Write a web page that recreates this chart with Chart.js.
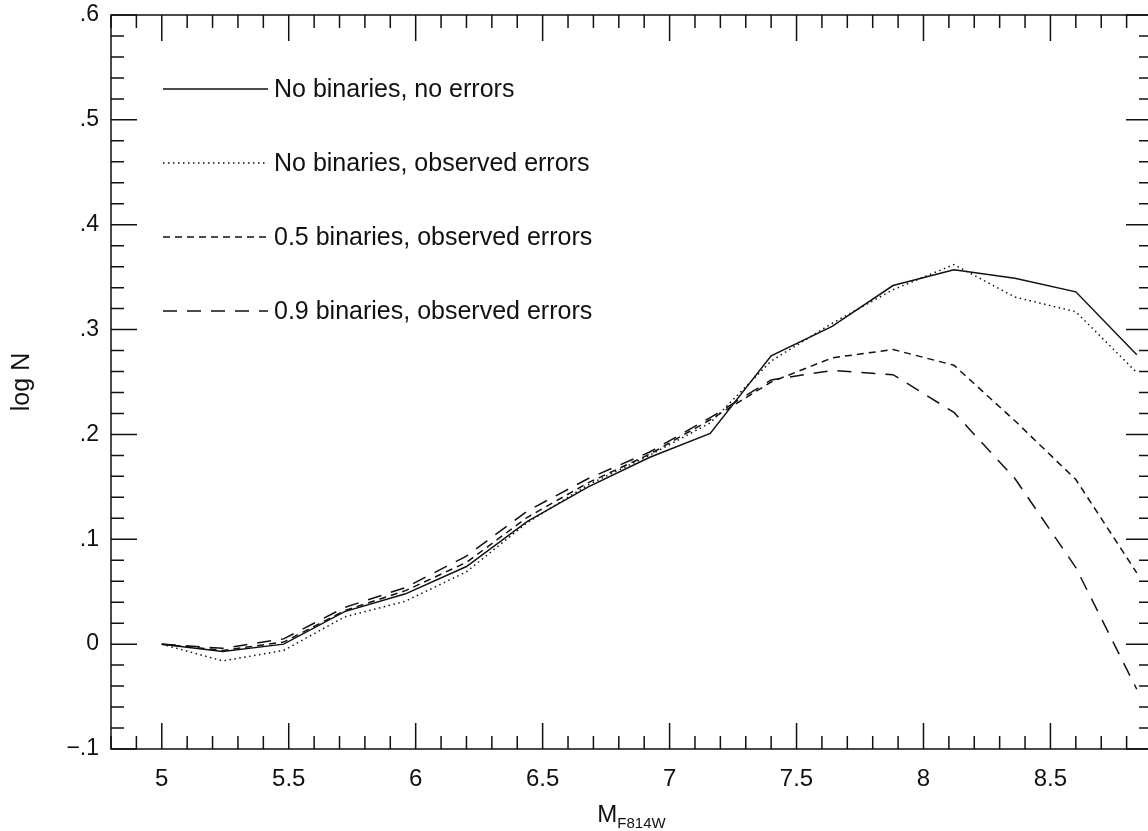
<!DOCTYPE html>
<html>
<head>
<meta charset="utf-8">
<script src="https://cdn.jsdelivr.net/npm/chart.js@4.4.1/dist/chart.umd.min.js"></script>
<style>
  html, body { margin: 0; padding: 0; background: #fff; overflow: hidden; }
  /* a little wider than the window: the right frame edge sits just off screen */
  #wrap { width: 1160px; height: 831px; }
</style>
</head>
<body>
<div id="wrap"><canvas id="lf"></canvas></div>
<script>
// magnitude bins (M_F814W)
const mags = [5.00, 5.24, 5.48, 5.72, 5.96, 6.20, 6.44, 6.68, 6.92, 7.16, 7.40, 7.64, 7.88, 8.12, 8.36, 8.60, 8.84];

// log N for each model
const noBinNoErr  = [0, -0.007, 0.000, 0.031, 0.048, 0.074, 0.117, 0.150, 0.178, 0.201, 0.275, 0.303, 0.342, 0.357, 0.349, 0.336, 0.276];
const noBinObsErr = [0, -0.016, -0.006, 0.026, 0.041, 0.069, 0.116, 0.152, 0.180, 0.211, 0.270, 0.306, 0.338, 0.362, 0.331, 0.317, 0.259];
const bin05ObsErr = [0, -0.006, 0.002, 0.032, 0.051, 0.078, 0.121, 0.154, 0.181, 0.214, 0.250, 0.273, 0.281, 0.266, 0.213, 0.157, 0.068];
const bin09ObsErr = [0, -0.004, 0.005, 0.035, 0.054, 0.084, 0.127, 0.158, 0.183, 0.216, 0.252, 0.261, 0.257, 0.221, 0.158, 0.073, -0.043];

const seriesNames = [
    'No binaries, no errors',
    'No binaries, observed errors',
    '0.5 binaries, observed errors',
    '0.9 binaries, observed errors'
];

const xTicks = [5, 5.5, 6, 6.5, 7, 7.5, 8, 8.5];
const xTickLabels = ['5', '5.5', '6', '6.5', '7', '7.5', '8', '8.5'];
const yTicks = [-0.1, 0, 0.1, 0.2, 0.3, 0.4, 0.5, 0.6];
const yTickLabels = ['\u2212.1', '0', '.1', '.2', '.3', '.4', '.5', '.6'];

const FONT = '"Liberation Sans", Arial, Helvetica, sans-serif';
const INK = '#111';

function pts(vals) {
    return mags.map((m, i) => ({ x: m, y: vals[i] }));
}

function lineSet(label, vals, dash) {
    return {
        label: label,
        data: pts(vals),
        borderColor: INK,
        borderWidth: 1.5,
        borderDash: dash,
        pointRadius: 0,
        tension: 0,
        fill: false
    };
}

// frame with inward ticks on all four sides
const framePlugin = {
    id: 'frame',
    afterDatasetsDraw(chart) {
        const { ctx, chartArea: a, scales: { x, y } } = chart;
        ctx.save();
        ctx.strokeStyle = INK;
        ctx.lineWidth = 1.5;
        ctx.strokeRect(a.left, a.top, a.right - a.left, a.bottom - a.top);
        ctx.beginPath();
        for (let i = 48; i <= 89; i++) {
            const px = x.getPixelForValue(i / 10);
            const len = i % 5 === 0 ? 26 : 13;
            ctx.moveTo(px, a.bottom); ctx.lineTo(px, a.bottom - len);
            ctx.moveTo(px, a.top); ctx.lineTo(px, a.top + len);
        }
        for (let i = -5; i <= 30; i++) {
            const py = y.getPixelForValue(i / 50);
            const len = i % 5 === 0 ? 26 : 13;
            ctx.moveTo(a.left, py); ctx.lineTo(a.left + len, py);
            ctx.moveTo(a.right, py); ctx.lineTo(a.right - len, py);
        }
        ctx.stroke();
        ctx.restore();
    }
};

// legend drawn inside the plot, upper left
const legendPlugin = {
    id: 'innerLegend',
    afterDatasetsDraw(chart) {
        const { ctx, chartArea: a } = chart;
        ctx.save();
        ctx.font = '25px ' + FONT;
        ctx.fillStyle = INK;
        ctx.textBaseline = 'middle';
        chart.data.datasets.forEach((ds, i) => {
            const yy = a.top + 74 + i * 74;
            ctx.strokeStyle = ds.borderColor;
            ctx.lineWidth = ds.borderWidth;
            ctx.setLineDash(ds.borderDash || []);
            ctx.beginPath();
            ctx.moveTo(a.left + 52, yy);
            ctx.lineTo(a.left + 157, yy);
            ctx.stroke();
            ctx.fillText(ds.label, a.left + 163, yy + 1);
        });
        ctx.restore();
    }
};

// x title with subscript, y title rotated
const titlesPlugin = {
    id: 'titles',
    afterDraw(chart) {
        const { ctx, chartArea: a } = chart;
        const cx = (a.left + a.right) / 2;
        ctx.save();
        ctx.fillStyle = INK;
        ctx.textBaseline = 'alphabetic';
        ctx.font = '24px ' + FONT;
        const wM = ctx.measureText('M').width;
        ctx.font = '15px ' + FONT;
        const wS = ctx.measureText('F814W').width;
        const x0 = cx - (wM + wS) / 2;
        ctx.font = '24px ' + FONT;
        ctx.fillText('M', x0, 822);
        ctx.font = '15px ' + FONT;
        ctx.fillText('F814W', x0 + wM, 828);

        ctx.translate(22, (a.top + a.bottom) / 2);
        ctx.rotate(-Math.PI / 2);
        ctx.font = '25px ' + FONT;
        ctx.textAlign = 'center';
        ctx.textBaseline = 'middle';
        ctx.fillText('log N', 0, 0);
        ctx.restore();
    }
};

new Chart(document.getElementById('lf'), {
    type: 'line',
    data: {
        datasets: [
            lineSet(seriesNames[0], noBinNoErr, []),
            lineSet(seriesNames[1], noBinObsErr, [1.5, 3.5]),
            lineSet(seriesNames[2], bin05ObsErr, [7, 5]),
            lineSet(seriesNames[3], bin09ObsErr, [14, 10])
        ]
    },
    options: {
        responsive: true,
        maintainAspectRatio: false,
        animation: false,
        layout: { padding: { left: 0, right: 8, top: 15, bottom: 0 } },
        plugins: {
            legend: { display: false },
            tooltip: { enabled: false }
        },
        scales: {
            x: {
                type: 'linear',
                min: 4.8,
                max: 8.9,
                grid: { display: false, drawTicks: false },
                border: { display: false },
                afterBuildTicks: s => { s.ticks = xTicks.map(v => ({ value: v })); },
                afterFit: s => { s.height = 82; s.paddingLeft = 0; s.paddingRight = 0; },
                ticks: {
                    padding: 16,
                    color: INK,
                    font: { family: FONT, size: 24 },
                    callback: (v, i) => xTickLabels[i]
                }
            },
            y: {
                type: 'linear',
                min: -0.1,
                max: 0.6,
                grid: { display: false, drawTicks: false },
                border: { display: false },
                afterBuildTicks: s => { s.ticks = yTicks.map(v => ({ value: v })); },
                afterFit: s => { s.width = 111; s.paddingTop = 0; s.paddingBottom = 0; },
                ticks: {
                    padding: 12,
                    color: INK,
                    font: { family: FONT, size: 23 },
                    callback: (v, i) => yTickLabels[i]
                }
            }
        }
    },
    plugins: [framePlugin, legendPlugin, titlesPlugin]
});
</script>
</body>
</html>
